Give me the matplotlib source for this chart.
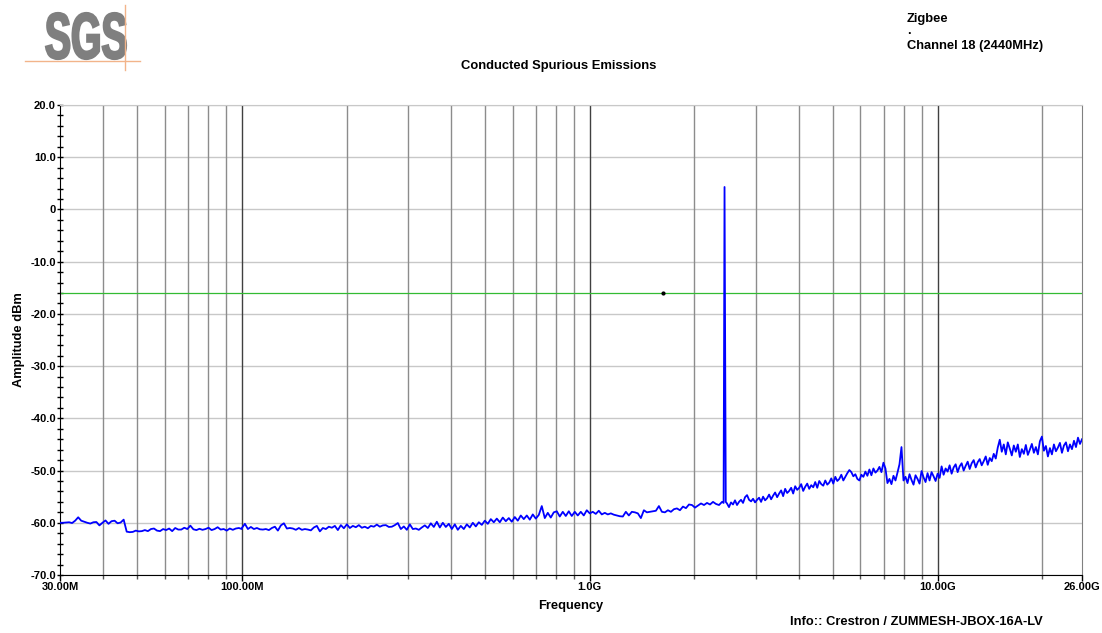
import matplotlib
matplotlib.use("Agg")
import matplotlib.pyplot as plt
import numpy as np
from matplotlib.lines import Line2D
from matplotlib.patches import PathPatch
from matplotlib.textpath import TextPath
from matplotlib.font_manager import FontProperties
from matplotlib.transforms import Affine2D
from matplotlib.ticker import FixedLocator, FixedFormatter, MultipleLocator

plt.rcParams["font.family"] = ["Liberation Sans", "DejaVu Sans"]
plt.rcParams["font.weight"] = "bold"

# sweep segments (MHz) and amplitudes (dBm)
seg_a_range = (30, 100)
seg_a = [-60.0, -60.0, -59.95, -59.9, -60.05, -59.6, -58.95, -59.6, -59.8, -60.0,
         -60.15, -59.9, -59.85, -60.5, -60.0, -59.55, -60.2, -59.7, -59.6, -60.1,
         -59.95, -59.4, -61.7, -61.8, -61.75, -61.5, -61.65, -61.6, -61.4, -61.6,
         -61.2, -61.1, -61.5, -61.6, -61.2, -61.4, -61.1, -61.6, -61.0, -61.3,
         -61.3, -60.95, -61.2, -60.55, -61.25, -61.4, -61.15, -61.35, -61.2, -60.95,
         -61.4, -61.2, -60.85, -61.3, -61.2, -61.5, -61.1, -61.35, -61.1, -61.0,
         -61.2]

seg_b_range = (100, 1000)
seg_b = [-61.0, -60.2, -61.2, -60.8, -61.2, -61.0, -61.25, -61.3, -61.2, -61.4,
         -61.0, -60.75, -61.5, -60.5, -60.1, -61.1, -61.0, -61.1, -61.35, -61.0,
         -61.35, -61.2, -61.3, -61.45, -60.9, -60.6, -61.65, -61.0, -61.2, -60.75,
         -60.95, -60.6, -61.4, -60.45, -61.05, -60.3, -61.0, -60.6, -60.85, -60.45,
         -60.95, -60.75, -61.05, -60.6, -60.75, -60.35, -60.75, -60.5, -60.45, -60.8,
         -60.75, -60.45, -60.05, -61.2, -60.7, -61.35, -60.3, -61.2, -61.1, -61.35,
         -60.9, -60.5, -61.0, -60.1, -60.8, -59.8, -60.9, -60.0, -60.8, -60.2,
         -61.2, -60.3, -61.35, -60.6, -61.2, -60.3, -60.9, -60.0, -60.7, -59.9,
         -60.4, -59.6, -60.2, -59.3, -59.9, -59.2, -59.9, -59.0, -59.7, -59.1,
         -59.8, -58.9, -59.6, -58.6, -59.3, -58.6, -59.4, -58.4, -59.2, -58.5,
         -56.8, -59.1, -58.1, -59.0, -58.0, -57.8, -58.8, -57.9, -58.7, -57.8,
         -58.7, -57.9, -58.6, -57.9, -58.6, -57.6, -58.2]

seg_c_range = (1000, 2400)
seg_c = [-58.2, -57.9, -58.3, -57.7, -58.4, -58.1, -58.4, -58.2, -58.45, -58.6,
         -58.75, -58.8, -57.9, -58.6, -57.9, -58.0, -58.2, -59.1, -57.6, -58.0,
         -57.9, -57.8, -57.7, -56.8, -57.9, -58.0, -57.6, -57.9, -57.4, -57.25,
         -57.6, -56.9, -57.2, -56.5, -56.6, -57.1, -56.7, -56.3, -56.6, -56.2,
         -56.5, -56.0, -56.4, -56.6, -56.0]

spike_freq = [2425, 2434, 2440, 2446, 2460]
spike_amp = [-56.2, -15.0, 4.3, -15.0, -56.0]

seg_d_range = (2480, 26000)
seg_d = [-56.3, -57.0, -56.1, -56.5, -55.7, -56.6, -56.0, -55.6, -56.2, -55.1,
         -54.7, -55.6, -55.9, -55.4, -56.1, -55.6, -55.2, -56.0, -55.0, -55.7,
         -55.3, -54.6, -55.5, -54.8, -54.2, -55.1, -54.4, -53.8, -54.9, -53.5,
         -54.3, -53.9, -53.3, -54.4, -53.0, -53.7, -53.3, -52.6, -53.9, -53.1,
         -52.5, -53.5, -52.8, -53.2, -52.2, -53.3, -52.0, -52.6, -52.9, -51.9,
         -52.7, -52.3, -51.5, -52.5, -51.2, -52.0, -51.6, -50.8, -51.9, -51.2,
         -50.5, -49.9, -50.3, -51.1, -50.7, -51.6, -51.9, -50.8, -51.2, -50.2,
         -51.0, -49.8,
         -50.9, -49.6, -50.4, -50.0, -49.3, -50.3, -48.5, -49.6, -52.4, -51.6,
         -52.6, -51.0, -51.9, -50.4, -48.8, -45.5, -51.9, -51.2, -52.4, -50.7,
         -51.8, -52.7, -50.9, -51.6, -52.5, -50.1, -51.3, -52.2, -50.5, -51.9,
         -50.3, -51.1, -52.0, -50.6, -51.4, -49.2, -50.8, -49.6, -50.2, -49.0,
         -50.6, -49.4, -48.8, -50.3, -49.2, -48.6, -50.0, -49.1, -48.3, -49.7,
         -48.6, -48.0, -49.4, -48.4, -47.8, -49.0, -48.2, -47.3, -48.9, -47.6,
         -48.2, -46.8, -47.7, -45.6, -44.1, -46.4, -45.0, -46.9, -44.6, -45.8,
         -47.1, -45.2, -46.4, -45.0, -47.4, -45.9, -46.8, -45.1, -47.0, -46.0,
         -44.9, -46.6, -45.5, -46.9, -44.4, -43.5, -46.2, -45.3, -47.3, -45.7,
         -46.9, -45.0, -46.3, -45.6, -44.7, -46.6, -45.2, -44.6, -46.3, -45.0,
         -45.9, -44.3, -45.5, -43.7, -44.9, -44.0]

limit_dbm = -16.0
marker_freq = 1620

xtick_freqs = [30, 100, 1000, 10000, 26000]
xtick_labels = ["30.00M", "100.00M", "1.0G", "10.00G", "26.00G"]
decade_lines = [100, 1000, 10000]
minor_lines = [40, 50, 60, 70, 80, 90,
               200, 300, 400, 500, 600, 700, 800, 900,
               2000, 3000, 4000, 5000, 6000, 7000, 8000, 9000,
               20000]
ytick_vals = [20, 10, 0, -10, -20, -30, -40, -50, -60, -70]
ytick_labels = ["20.0", "10.0", "0", "-10.0", "-20.0", "-30.0", "-40.0", "-50.0", "-60.0", "-70.0"]

freq = np.concatenate([
    np.geomspace(*seg_a_range, len(seg_a)),
    np.geomspace(*seg_b_range, len(seg_b)),
    np.geomspace(*seg_c_range, len(seg_c)),
    spike_freq,
    np.geomspace(*seg_d_range, len(seg_d)),
])
amp = np.concatenate([seg_a, seg_b, seg_c, spike_amp, seg_d])

W, H = 1102, 633
fig = plt.figure(figsize=(W / 100, H / 100), dpi=100)
ax = fig.add_axes([60 / W, 58 / H, 1022 / W, 470 / H])

ax.set_xscale("log")
ax.set_xlim(30, 26000)
ax.set_ylim(-70, 20)

for v in ytick_vals:
    ax.axhline(v, color="#c8c8c8", lw=1.0, zorder=1)
for f in minor_lines:
    ax.axvline(f, color="#8c8c8c", lw=1.0, zorder=1)
for f in decade_lines:
    ax.axvline(f, color="#404040", lw=1.0, zorder=1)

ax.axhline(limit_dbm, color="#33bb33", lw=0.9, zorder=2)
ax.plot([marker_freq], [limit_dbm], "o", ms=2, color="black", zorder=4)
ax.plot(freq, amp, color="#0000ff", lw=1.3, zorder=3)

ax.xaxis.set_major_locator(FixedLocator(xtick_freqs))
ax.xaxis.set_major_formatter(FixedFormatter(xtick_labels))
ax.xaxis.set_minor_locator(FixedLocator(minor_lines))
ax.xaxis.set_minor_formatter(FixedFormatter([]))
ax.yaxis.set_major_locator(FixedLocator(ytick_vals))
ax.yaxis.set_major_formatter(FixedFormatter(ytick_labels))
ax.yaxis.set_minor_locator(MultipleLocator(2))

ax.tick_params(axis="both", which="major", labelsize=8, length=4, width=1, pad=1)
ax.tick_params(axis="y", which="both", direction="inout")
ax.tick_params(axis="y", which="minor", length=4, width=1)
ax.tick_params(axis="x", which="minor", length=3, width=1, color="#555555")
for lab in ax.get_xticklabels() + ax.get_yticklabels():
    lab.set_fontweight("bold")

ax.spines["top"].set_color("#c8c8c8")
ax.spines["right"].set_color("#808080")
ax.spines["left"].set_color("black")
ax.spines["bottom"].set_color("black")

ax.set_xlabel("Frequency", fontsize=9.3, fontweight="bold", labelpad=6)
ax.set_ylabel("Amplitude dBm", fontsize=9.3, fontweight="bold", labelpad=4)

fig.text(559 / W, 1 - 66 / H, "Conducted Spurious Emissions", ha="center", va="center",
         fontsize=9.4, fontweight="bold")
fig.text(907 / W, 1 - 19 / H, "Zigbee", ha="left", va="center", fontsize=9.3, fontweight="bold")
fig.text(907 / W, 1 - 31 / H, ".", ha="left", va="center", fontsize=9.3, fontweight="bold")
fig.text(907 / W, 1 - 46 / H, "Channel 18 (2440MHz)", ha="left", va="center",
         fontsize=9.3, fontweight="bold")
fig.text(790 / W, 1 - 622 / H, "Info:: Crestron / ZUMMESH-JBOX-16A-LV", ha="left", va="center",
         fontsize=9.3, fontweight="bold")

# logo: bold letters squeezed into the box the reference uses
tp = TextPath((0, 0), "SGS", size=1, prop=FontProperties(family="Liberation Sans", weight="bold"))
bb = tp.get_extents()
lx0, lx1, ly_top, ly_bot = 46, 126, 13, 59
logo_tr = (Affine2D().translate(-bb.x0, -bb.y0)
           .scale((lx1 - lx0) / bb.width / W, (ly_bot - ly_top) / bb.height / H)
           .translate(lx0 / W, 1 - ly_bot / H) + fig.transFigure)
fig.add_artist(PathPatch(tp, transform=logo_tr, facecolor="#7f7f7f", edgecolor="#7f7f7f",
                         lw=1.6))
fig.add_artist(Line2D([25 / W, 140 / W], [1 - 61 / H] * 2, transform=fig.transFigure,
                      color="#f2b48a", lw=1))
fig.add_artist(Line2D([125 / W, 125 / W], [1 - 5 / H, 1 - 70 / H], transform=fig.transFigure,
                      color="#f2b48a", lw=1))

fig.savefig("out.png", dpi=100)
